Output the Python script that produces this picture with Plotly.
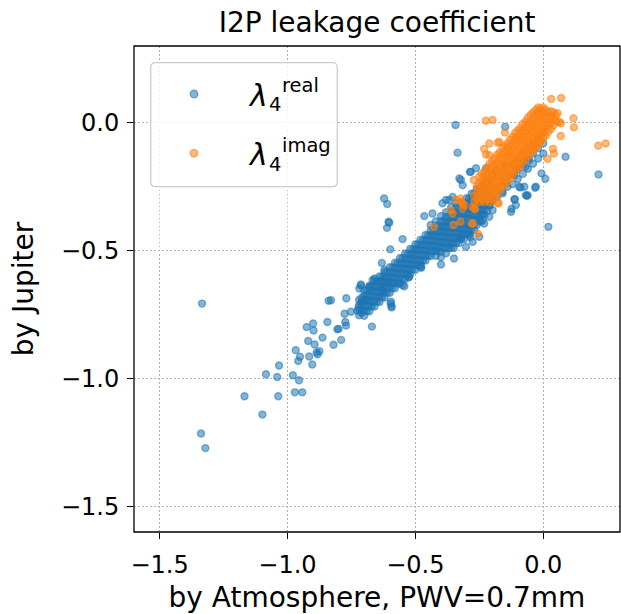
import plotly.graph_objects as go

# ---------------- data ----------------
# sparse blue points (lambda_4 real)
blue_sparse = [
    (-1.334, -0.707), (-1.338, -1.215), (-1.321, -1.272), (-1.168, -1.069), (-1.098, -1.141),
    (-1.084, -0.983), (-1.040, -0.994), (-1.033, -0.949), (-1.036, -1.069), (-0.979, -0.987),
    (-0.955, -1.007), (-0.971, -1.054), (-0.942, -1.054), (-0.968, -0.889), (-0.958, -0.931),
    (-0.951, -0.915), (-0.903, -0.945), (-0.915, -0.914), (-0.919, -0.853), (-0.894, -0.867),
    (-0.886, -0.898), (-0.875, -0.893), (-0.882, -0.905), (-0.863, -0.840), (-0.925, -0.799),
    (-0.900, -0.785), (-0.898, -0.812), (-0.844, -0.779), (-0.839, -0.696), (-0.820, -0.868),
    (-0.790, -0.849), (-0.805, -0.807), (-0.800, -0.806), (-0.771, -0.793), (-0.774, -0.779),
    (-0.777, -0.747), (-0.752, -0.739), (-0.727, -0.735), (-0.722, -0.722), (-0.830, -0.694),
    (-0.770, -0.686), (-0.710, -0.698), (-0.698, -0.691), (-0.680, -0.695), (-0.670, -0.797),
    (-0.597, -0.707), (-0.593, -0.722), (-0.719, -0.648), (-0.713, -0.632), (-0.676, -0.642),
    (-0.659, -0.609), (-0.629, -0.652), (-0.628, -0.615), (-0.602, -0.622), (-0.563, -0.628),
    (-0.543, -0.639), (-0.526, -0.605), (-0.631, -0.548), (-0.598, -0.495), (-0.621, -0.576),
    (-0.477, -0.567), (-0.400, -0.554), (-0.349, -0.531), (-0.321, -0.450), (-0.285, -0.448),
    (-0.611, -0.411), (-0.602, -0.391), (-0.622, -0.296), (-0.610, -0.318), (-0.605, -0.387),
    (-0.550, -0.455), (-0.465, -0.365), (-0.433, -0.355), (-0.478, -0.563), (-0.524, -0.602),
    (-0.550, -0.635), (-0.595, -0.700), (-0.593, -0.717), (-0.667, -0.615), (-0.680, -0.642),
    (-0.713, -0.636), (-0.631, -0.648), (-0.322, -0.224), (-0.315, -0.244), (-0.237, -0.381),
    (-0.231, -0.394), (-0.322, -0.439), (-0.328, -0.452), (-0.289, -0.433), (-0.343, -0.009),
    (-0.335, -0.117), (-0.149, -0.016), (-0.113, -0.300), (-0.107, -0.322), (-0.126, -0.348),
    (-0.074, -0.250), (-0.068, -0.283), (-0.094, -0.250), (0.020, -0.407), (0.216, -0.202),
    (0.087, -0.133), (-0.007, -0.198), (0.008, -0.219), (-0.032, -0.254), (-0.064, -0.286),
    (-0.089, -0.253), (-0.111, -0.299), (-0.124, -0.336), (-0.244, -0.387), (-0.287, -0.192),
    (-0.224, -0.178), (-0.185, -0.185), (-0.152, -0.165), (-0.107, -0.185), (-0.070, -0.172),
    (-0.055, -0.146), (-0.113, -0.205), (-0.146, -0.237), (-0.185, -0.263), (-0.159, -0.276),
    (-0.198, -0.302), (-0.237, -0.315), (-0.263, -0.335), (-0.211, -0.322), (-0.237, -0.355),
    (-0.198, -0.342), (-0.211, -0.368), (-0.328, -0.218), (-0.283, -0.192), (-0.263, -0.178),
    (-0.380, -0.302), (-0.354, -0.290), (-0.029, -0.250), (-0.061, -0.283), (-0.080, -0.153),
    (-0.074, -0.146), (-0.394, -0.315), (-0.367, -0.302), (-0.302, -0.485), (-0.276, -0.465),
    (-0.250, -0.446),
]

# dense blue band: (x, [y values at that x])
blue_band = [
    (-0.72, [-0.753, -0.733, -0.713, -0.693]),
    (-0.71, [-0.744, -0.724, -0.704, -0.684]),
    (-0.70, [-0.755, -0.735, -0.715, -0.695, -0.675, -0.655]),
    (-0.69, [-0.736, -0.716, -0.696, -0.676, -0.656]),
    (-0.68, [-0.737, -0.717, -0.697, -0.677, -0.657, -0.637]),
    (-0.67, [-0.718, -0.698, -0.678, -0.658, -0.638]),
    (-0.66, [-0.719, -0.699, -0.679, -0.659, -0.639, -0.619]),
    (-0.65, [-0.700, -0.680, -0.660, -0.640, -0.620]),
    (-0.64, [-0.701, -0.681, -0.661, -0.641, -0.621, -0.601]),
    (-0.63, [-0.682, -0.662, -0.642, -0.622, -0.602]),
    (-0.62, [-0.683, -0.663, -0.643, -0.623, -0.603, -0.583]),
    (-0.61, [-0.664, -0.644, -0.624, -0.604, -0.584]),
    (-0.60, [-0.665, -0.645, -0.625, -0.605, -0.585, -0.565]),
    (-0.59, [-0.646, -0.626, -0.606, -0.586, -0.566]),
    (-0.58, [-0.647, -0.627, -0.607, -0.587, -0.567, -0.547]),
    (-0.57, [-0.628, -0.608, -0.588, -0.568, -0.548]),
    (-0.56, [-0.629, -0.609, -0.589, -0.569, -0.549, -0.529]),
    (-0.55, [-0.610, -0.590, -0.570, -0.550, -0.530]),
    (-0.54, [-0.611, -0.591, -0.571, -0.551, -0.531, -0.511]),
    (-0.53, [-0.592, -0.572, -0.552, -0.532, -0.512]),
    (-0.52, [-0.593, -0.573, -0.553, -0.533, -0.513, -0.493]),
    (-0.51, [-0.574, -0.554, -0.534, -0.514, -0.494]),
    (-0.50, [-0.575, -0.555, -0.535, -0.515, -0.495, -0.475]),
    (-0.49, [-0.556, -0.536, -0.516, -0.496, -0.476]),
    (-0.48, [-0.557, -0.537, -0.517, -0.497, -0.477, -0.457]),
    (-0.47, [-0.538, -0.518, -0.498, -0.478, -0.458]),
    (-0.46, [-0.539, -0.519, -0.499, -0.479, -0.459, -0.439]),
    (-0.45, [-0.520, -0.500, -0.480, -0.460, -0.440]),
    (-0.44, [-0.521, -0.501, -0.481, -0.461, -0.441, -0.421, -0.40]),
    (-0.43, [-0.502, -0.482, -0.462, -0.442, -0.422]),
    (-0.42, [-0.52, -0.503, -0.483, -0.463, -0.443, -0.423, -0.403, -0.385]),
    (-0.41, [-0.50, -0.484, -0.464, -0.444, -0.424, -0.404]),
    (-0.40, [-0.525, -0.505, -0.485, -0.465, -0.445, -0.425, -0.405, -0.385, -0.365]),
    (-0.39, [-0.49, -0.466, -0.446, -0.426, -0.406, -0.386]),
    (-0.38, [-0.51, -0.49, -0.467, -0.447, -0.427, -0.407, -0.387, -0.367, -0.35]),
    (-0.37, [-0.49, -0.47, -0.448, -0.428, -0.408, -0.388, -0.368]),
    (-0.36, [-0.49, -0.47, -0.449, -0.429, -0.409, -0.389, -0.369, -0.349, -0.33]),
    (-0.35, [-0.49, -0.47, -0.45, -0.430, -0.410, -0.390, -0.370, -0.350]),
    (-0.34, [-0.47, -0.45, -0.431, -0.411, -0.391, -0.371, -0.351, -0.331, -0.315]),
    (-0.33, [-0.47, -0.45, -0.43, -0.412, -0.392, -0.372, -0.352, -0.332]),
    (-0.32, [-0.455, -0.435, -0.413, -0.393, -0.373, -0.353, -0.333, -0.313]),
    (-0.31, [-0.455, -0.435, -0.415, -0.394, -0.374, -0.354, -0.334, -0.314]),
    (-0.30, [-0.435, -0.415, -0.395, -0.375, -0.355, -0.335, -0.315, -0.295]),
    (-0.29, [-0.44, -0.42, -0.40, -0.376, -0.356, -0.336, -0.316, -0.296]),
    (-0.28, [-0.42, -0.40, -0.377, -0.357, -0.337, -0.317, -0.297, -0.277]),
    (-0.27, [-0.42, -0.40, -0.38, -0.358, -0.338, -0.318, -0.298, -0.278]),
    (-0.26, [-0.40, -0.38, -0.359, -0.339, -0.319, -0.299, -0.279, -0.259]),
    (-0.25, [-0.38, -0.36, -0.340, -0.320, -0.300, -0.280, -0.260]),
    (-0.24, [-0.36, -0.341, -0.321, -0.301, -0.281, -0.261, -0.241]),
    (-0.23, [-0.36, -0.34, -0.322, -0.302, -0.282, -0.262, -0.242]),
    (-0.22, [-0.345, -0.323, -0.303, -0.283, -0.263, -0.243, -0.223]),
    (-0.21, [-0.325, -0.304, -0.284, -0.264, -0.244, -0.224]),
    (-0.20, [-0.305, -0.285, -0.265, -0.245, -0.225, -0.205]),
    (-0.18, [-0.29, -0.25, -0.21]),
    (-0.16, [-0.27, -0.23, -0.19]),
    (-0.14, [-0.25, -0.21, -0.17]),
    (-0.12, [-0.24, -0.20, -0.16]),
    (-0.10, [-0.22, -0.18, -0.14]),
    (-0.08, [-0.20, -0.16, -0.12]),
    (-0.06, [-0.18, -0.14, -0.10]),
    (-0.04, [-0.16, -0.12, -0.08]),
    (-0.02, [-0.14, -0.10, -0.06]),
    (0.00, [-0.12, -0.08, -0.04]),
]

# sparse orange points (lambda_4 imag)
orange_sparse = [
    (0.031, 0.093), (0.070, 0.097), (0.118, 0.018), (0.120, -0.018), (0.068, -0.052),
    (0.215, -0.090), (0.244, -0.081), (0.038, -0.102), (0.042, -0.120), (0.017, -0.141),
    (-0.224, 0.008), (-0.198, 0.011), (-0.150, -0.038), (-0.178, -0.078), (-0.231, -0.102),
    (-0.224, -0.124), (-0.256, -0.433), (-0.279, -0.394), (-0.266, -0.338), (-0.309, -0.322),
    (-0.324, -0.296), (-0.354, -0.355), (-0.362, -0.342), (-0.324, -0.387), (-0.351, -0.400),
    (-0.427, -0.407), (-0.174, -0.315), (-0.272, -0.224), (-0.198, -0.257), (-0.211, -0.081),
    (-0.172, -0.074), (-0.016, -0.074), (-0.276, -0.329), (-0.211, -0.126), (-0.322, -0.309),
    (-0.315, -0.335), (-0.270, -0.335), (-0.179, -0.315), (-0.276, -0.394), (-0.341, -0.302),
    (-0.315, -0.315), (0.056, 0.037), (0.063, 0.004), (0.069, -0.002), (-0.016, -0.081),
    (-0.035, -0.100),
]

# dense orange band: (x, [y values at that x])
orange_band = [
    (-0.27, [-0.31, -0.285]),
    (-0.26, [-0.30, -0.275, -0.25]),
    (-0.25, [-0.31, -0.285, -0.26, -0.235, -0.21]),
    (-0.24, [-0.30, -0.275, -0.25, -0.225, -0.20]),
    (-0.23, [-0.31, -0.285, -0.26, -0.235, -0.21, -0.19]),
    (-0.22, [-0.30, -0.275, -0.25, -0.225, -0.20, -0.175]),
    (-0.21, [-0.31, -0.285, -0.26, -0.235, -0.21, -0.185, -0.16]),
    (-0.20, [-0.30, -0.275, -0.25, -0.225, -0.20, -0.175, -0.15]),
    (-0.19, [-0.29, -0.265, -0.24, -0.215, -0.19, -0.165, -0.14]),
    (-0.18, [-0.28, -0.255, -0.23, -0.205, -0.18, -0.155, -0.125]),
    (-0.17, [-0.265, -0.24, -0.215, -0.19, -0.165, -0.14, -0.115]),
    (-0.16, [-0.25, -0.225, -0.20, -0.175, -0.15, -0.125, -0.10]),
    (-0.15, [-0.24, -0.215, -0.19, -0.165, -0.14, -0.115, -0.09]),
    (-0.14, [-0.23, -0.205, -0.18, -0.155, -0.13, -0.105, -0.08]),
    (-0.13, [-0.215, -0.19, -0.165, -0.14, -0.115, -0.09, -0.065]),
    (-0.12, [-0.205, -0.18, -0.155, -0.13, -0.105, -0.08, -0.055]),
    (-0.11, [-0.19, -0.165, -0.14, -0.115, -0.09, -0.065, -0.04]),
    (-0.10, [-0.18, -0.155, -0.13, -0.105, -0.08, -0.055, -0.03]),
    (-0.09, [-0.17, -0.145, -0.12, -0.095, -0.07, -0.045, -0.02]),
    (-0.08, [-0.155, -0.13, -0.105, -0.08, -0.055, -0.03, -0.005]),
    (-0.07, [-0.145, -0.12, -0.095, -0.07, -0.045, -0.02, 0.005]),
    (-0.06, [-0.13, -0.105, -0.08, -0.055, -0.03, -0.005, 0.02]),
    (-0.05, [-0.12, -0.095, -0.07, -0.045, -0.02, 0.005, 0.03]),
    (-0.04, [-0.11, -0.085, -0.06, -0.035, -0.01, 0.015, 0.04]),
    (-0.03, [-0.095, -0.07, -0.045, -0.02, 0.005, 0.03, 0.05]),
    (-0.02, [-0.085, -0.06, -0.035, -0.01, 0.015, 0.04, 0.06]),
    (-0.01, [-0.07, -0.045, -0.02, 0.005, 0.03, 0.055]),
    (0.00, [-0.06, -0.035, -0.01, 0.015, 0.04, 0.06]),
    (0.01, [-0.05, -0.025, 0.0, 0.025, 0.05]),
    (0.02, [-0.035, -0.01, 0.015, 0.04]),
    (0.03, [-0.025, 0.0, 0.025, 0.045]),
    (0.04, [-0.01, 0.015, 0.04]),
    (0.05, [0.005, 0.03]),
]

tick_vals = [-1.5, -1.0, -0.5, 0.0]
tick_text = ["\u22121.5", "\u22121.0", "\u22120.5", "0.0"]
axis_range = [-1.6, 0.3]

title_text = "I2P leakage coefficient"
x_label = "by Atmosphere, PWV=0.7mm"
y_label = "by Jupiter"
series_names = ["real", "imag"]

BLUE = "#1f77b4"
ORANGE = "#ff7f0e"

# ---------------- figure ----------------
W, H = 621, 614
ML, MR, MT, MB = 134, 1, 46, 82
PW, PH = W - ML - MR, H - MT - MB


def px(xp):
    return (xp - ML) / PW


def py(yp):
    return (H - MB - yp) / PH


def rgba(hexc, a):
    h = hexc.lstrip("#")
    return "rgba(%d,%d,%d,%s)" % (int(h[0:2], 16), int(h[2:4], 16), int(h[4:6], 16), a)


def marker(c):
    return dict(size=7, color=rgba(c, 0.55), line=dict(color=rgba(c, 0.55), width=1.4))


def unpack(sparse, band):
    xs = [p[0] for p in sparse]
    ys = [p[1] for p in sparse]
    for x, yl in band:
        for y in yl:
            xs.append(x)
            ys.append(y)
    return xs, ys


bx, by = unpack(blue_sparse, blue_band)
ox, oy = unpack(orange_sparse, orange_band)

fig = go.Figure()
fig.add_trace(go.Scatter(x=bx, y=by, mode="markers", marker=marker(BLUE),
                         name="λ4 real", showlegend=False))
fig.add_trace(go.Scatter(x=ox, y=oy, mode="markers", marker=marker(ORANGE),
                         name="λ4 imag", showlegend=False))

FONT = "DejaVu Sans"
axis_common = dict(
    range=axis_range, tickvals=tick_vals, ticktext=tick_text,
    showgrid=True, gridcolor="#b0b0b0", griddash="1.5px,2.5px", gridwidth=1.3,
    zeroline=False, showline=False,
    ticks="outside", ticklen=6, tickwidth=1.2, tickcolor="black",
    tickfont=dict(family=FONT, size=24, color="black"),
)
fig.update_layout(
    width=W, height=H, margin=dict(l=ML, r=MR, t=MT, b=MB, autoexpand=False),
    paper_bgcolor="white", plot_bgcolor="white",
    font=dict(family=FONT, color="black"),
    title=dict(text=title_text, x=(ML + PW / 2) / W, xanchor="center",
               y=1 - 22 / H, yanchor="middle", font=dict(family=FONT, size=28, color="black")),
    xaxis=dict(axis_common, ticklabelstandoff=5,
               title=dict(text=x_label, font=dict(family=FONT, size=28), standoff=12)),
    yaxis=dict(axis_common, ticklabelstandoff=3,
               title=dict(text=y_label, font=dict(family=FONT, size=28), standoff=19)),
    showlegend=False,
)

# axes frame (all four spines)
shapes = [dict(type="rect", xref="paper", yref="paper", x0=0, x1=1, y0=0, y1=1,
               layer="above", line=dict(color="black", width=1.3), fillcolor="rgba(0,0,0,0)")]

# ---------------- legend (drawn manually to stack sub/superscripts) ----------------
x0, x1 = px(150.7), px(337.3)
y1, y0 = py(62.7), py(186.7)
rx, ry = 5 / PW, 5 / PH
path = (f"M {x0+rx},{y1} L {x1-rx},{y1} Q {x1},{y1} {x1},{y1-ry} L {x1},{y0+ry} "
        f"Q {x1},{y0} {x1-rx},{y0} L {x0+rx},{y0} Q {x0},{y0} {x0},{y0+ry} "
        f"L {x0},{y1-ry} Q {x0},{y1} {x0+rx},{y1} Z")
shapes.append(dict(type="path", path=path, xref="paper", yref="paper", layer="above",
                   fillcolor="rgba(255,255,255,0.8)", line=dict(color="#cccccc", width=1.3)))
annots = []
for i, (c, name) in enumerate(zip([BLUE, ORANGE], series_names)):
    cy = 94 + i * 59.3
    r = 3.8
    shapes.append(dict(type="circle", xref="paper", yref="paper", layer="above",
                       x0=px(194 - r), x1=px(194 + r), y0=py(cy + r), y1=py(cy - r),
                       fillcolor=rgba(c, 0.55), line=dict(color=rgba(c, 0.55), width=1.4)))
    common = dict(xref="paper", yref="paper", yanchor="middle", showarrow=False,
                  borderpad=0, borderwidth=0)
    annots.append(dict(common, text="<i>λ</i>", x=px(267.5), y=py(cy + 1), xanchor="right",
                       font=dict(family=FONT, size=30, color="black")))
    annots.append(dict(common, text="4", x=px(268.5), y=py(cy + 11), xanchor="left",
                       font=dict(family=FONT, size=19.5, color="black")))
    annots.append(dict(common, text=name, x=px(282), y=py(cy - 8), xanchor="left",
                       font=dict(family=FONT, size=19.5, color="black")))
fig.update_layout(shapes=shapes, annotations=annots)

fig.write_html("out.html")
